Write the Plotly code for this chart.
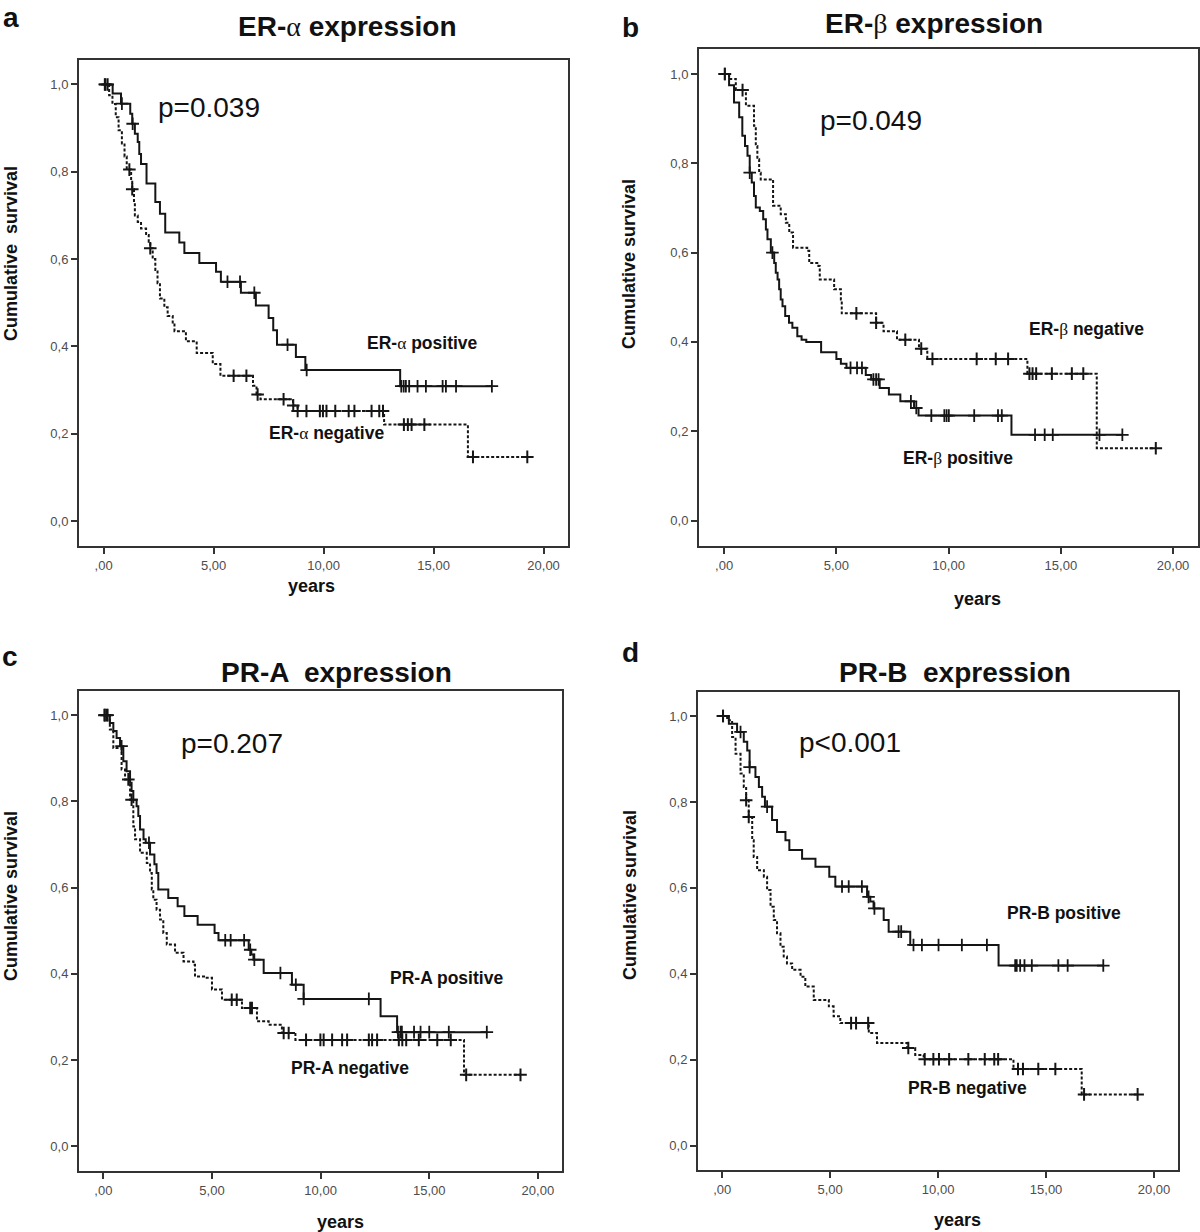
import plotly.graph_objects as go

W, H = 1200, 1232

# ---------------- data (years, cumulative survival) ----------------
# Panel a : ER-alpha
era_pos_t = [0, 0.41, 0.79, 1.21, 1.30, 1.42, 1.55, 1.62, 1.70, 1.95, 2.35, 2.56, 2.80, 3.44, 3.67, 4.35, 5.11,
             5.33, 6.24, 6.92, 7.50, 7.71, 7.88, 8.74, 9.17, 13.48, 17.65]
era_pos_s = [1.0, 0.979, 0.956, 0.933, 0.91, 0.887, 0.868, 0.841, 0.818, 0.773, 0.731, 0.704, 0.661, 0.638, 0.614,
             0.591, 0.571, 0.548, 0.523, 0.494, 0.465, 0.437, 0.404, 0.376, 0.346, 0.309, 0.309]
era_pos_c = [0.05, 0.83, 1.32, 5.63, 6.20, 6.85, 8.36, 9.23, 13.53, 13.64, 13.74, 13.89, 14.27, 14.65, 15.41, 15.56,
             16.02, 17.65]
era_neg_t = [0, 0.25, 0.40, 0.55, 0.68, 0.83, 0.95, 1.05, 1.25, 1.30, 1.38, 1.42, 1.55, 1.70, 1.93, 2.05, 2.12, 2.23,
             2.35, 2.45, 2.56, 2.76, 2.91, 3.14, 3.22, 3.74, 4.23, 4.96, 5.31, 6.79, 6.95, 7.13, 8.61, 8.82, 12.75,
             16.56, 19.26]
era_neg_s = [1.0, 0.975, 0.955, 0.925, 0.895, 0.865, 0.835, 0.805, 0.78, 0.76, 0.73, 0.70, 0.685, 0.67, 0.655, 0.64,
             0.625, 0.60, 0.575, 0.545, 0.51, 0.49, 0.47, 0.45, 0.435, 0.412, 0.385, 0.36, 0.333, 0.31, 0.29, 0.279,
             0.265, 0.252, 0.221, 0.147, 0.147]
era_neg_c = [0.08, 0.18, 1.17, 1.30, 2.12, 5.91, 6.49, 7.0, 8.18, 8.62, 8.82, 9.22, 9.83, 9.97, 10.13, 10.53, 11.14,
             11.40, 12.18, 12.53, 12.70, 13.65, 13.83, 14.0, 14.58, 16.79, 19.26]

# Panel b : ER-beta
erb_pos_t = [0, 0.22, 0.44, 0.67, 0.81, 0.93, 1.04, 1.14, 1.23, 1.33, 1.41, 1.59, 1.74, 1.86, 1.93, 2.08, 2.23, 2.30,
             2.38, 2.45, 2.52, 2.60, 2.72, 2.89, 3.04, 3.26, 3.45, 3.66, 4.32, 5.0, 5.2, 5.45, 6.31, 6.55, 6.93, 7.34,
             7.85, 8.46, 8.66, 12.8, 17.74]
erb_pos_s = [1.0, 0.975, 0.936, 0.903, 0.862, 0.839, 0.817, 0.779, 0.757, 0.727, 0.701, 0.693, 0.675, 0.652, 0.63,
             0.60, 0.577, 0.555, 0.54, 0.518, 0.495, 0.48, 0.458, 0.443, 0.432, 0.413, 0.405, 0.40, 0.377, 0.362,
             0.351, 0.342, 0.326, 0.316, 0.297, 0.282, 0.267, 0.252, 0.235, 0.192, 0.192]
erb_pos_c = [0.03, 1.14, 2.15, 5.63, 5.92, 6.14, 6.65, 6.77, 6.88, 8.32, 8.56, 9.23, 9.81, 9.91, 10.01, 11.14, 12.2,
             12.37, 13.85, 14.28, 14.64, 16.72, 17.74]
erb_neg_t = [0, 0.22, 0.52, 0.97, 1.33, 1.41, 1.48, 1.56, 1.63, 2.18, 2.52, 2.75, 2.90, 3.07, 3.70, 3.79, 4.20, 4.26,
             4.90, 5.20, 5.24, 6.77, 7.10, 7.70, 8.68, 9.05, 13.51, 16.60, 19.23]
erb_neg_s = [1.0, 0.989, 0.964, 0.929, 0.884, 0.839, 0.809, 0.779, 0.764, 0.705, 0.686, 0.667, 0.645, 0.611, 0.604,
             0.577, 0.570, 0.540, 0.518, 0.495, 0.464, 0.443, 0.424, 0.405, 0.385, 0.362, 0.329, 0.162, 0.162]
erb_neg_c = [0.03, 0.82, 5.89, 6.77, 8.07, 8.78, 9.28, 11.25, 12.1, 12.65, 13.6, 13.74, 13.9, 14.6, 15.49, 16.0, 19.23]

# Panel c : PR-A
pra_pos_t = [0, 0.30, 0.46, 0.61, 0.77, 0.92, 1.07, 1.23, 1.30, 1.38, 1.53, 1.61, 1.69, 1.85, 1.95, 2.15, 2.35, 2.45,
             2.53, 2.99, 3.42, 3.73, 4.34, 5.12, 5.30, 6.69, 6.81, 6.91, 7.38, 8.68, 9.22, 12.76, 13.52, 17.65]
pra_pos_s = [1.0, 0.982, 0.963, 0.947, 0.928, 0.893, 0.870, 0.843, 0.824, 0.804, 0.789, 0.766, 0.735, 0.712, 0.704,
             0.677, 0.654, 0.634, 0.596, 0.576, 0.557, 0.534, 0.514, 0.495, 0.478, 0.456, 0.445, 0.433, 0.402, 0.375,
             0.342, 0.302, 0.265, 0.265]
pra_pos_c = [0.07, 0.2, 0.84, 2.1, 5.61, 5.86, 6.48, 6.76, 6.95, 8.15, 8.86, 9.22, 12.22, 13.56, 13.68, 13.74, 14.3,
             14.6, 15.0, 15.9, 17.65]
pra_neg_t = [0, 0.30, 0.46, 0.84, 1.0, 1.23, 1.38, 1.46, 1.69, 2.0, 2.15, 2.23, 2.30, 2.45, 2.61, 2.76, 2.92, 3.30,
             3.69, 4.15, 4.22, 4.68, 5.0, 5.46, 6.38, 7.07, 7.61, 8.22, 8.84, 16.6, 19.2]
pra_neg_s = [1.0, 0.967, 0.924, 0.874, 0.851, 0.804, 0.742, 0.712, 0.681, 0.657, 0.634, 0.596, 0.572, 0.549, 0.526,
             0.495, 0.468, 0.449, 0.429, 0.421, 0.394, 0.391, 0.364, 0.340, 0.321, 0.290, 0.282, 0.263, 0.247, 0.166,
             0.166]
pra_neg_c = [0.05, 0.15, 1.15, 1.30, 5.91, 6.14, 6.76, 6.84, 8.30, 8.53, 9.33, 9.99, 10.14, 10.53, 10.99, 11.22, 12.22,
             12.37, 12.6, 13.6, 13.76, 13.94, 14.52, 15.37, 15.99, 16.7, 19.2]

# Panel d : PR-B
prb_pos_t = [0, 0.31, 0.69, 1.0, 1.16, 1.27, 1.54, 1.70, 1.85, 1.98, 2.31, 2.54, 2.93, 3.11, 3.70, 4.32, 4.96, 5.24,
             6.71, 6.86, 7.01, 7.48, 7.71, 8.71, 12.8, 17.65]
prb_pos_s = [1.0, 0.982, 0.963, 0.940, 0.920, 0.881, 0.858, 0.835, 0.812, 0.789, 0.758, 0.730, 0.711, 0.688, 0.668,
             0.649, 0.626, 0.603, 0.579, 0.568, 0.552, 0.525, 0.498, 0.467, 0.419, 0.419]
prb_pos_c = [0.04, 0.85, 1.27, 2.08, 5.55, 5.86, 6.47, 6.78, 7.05, 8.17, 8.29, 8.86, 9.25, 10.02, 11.1, 12.26, 13.57,
             13.64, 13.80, 14.0, 14.34, 15.57, 16.0, 17.65]
prb_neg_t = [0, 0.23, 0.46, 0.62, 0.85, 1.0, 1.11, 1.23, 1.39, 1.46, 1.62, 1.93, 2.08, 2.24, 2.39, 2.54, 2.70, 2.85,
             3.0, 3.24, 3.63, 3.85, 4.24, 4.94, 5.16, 5.47, 6.79, 7.17, 8.56, 8.94, 9.33, 13.49, 16.65, 19.24]
prb_neg_s = [1.0, 0.99, 0.951, 0.912, 0.866, 0.835, 0.804, 0.765, 0.711, 0.672, 0.641, 0.626, 0.595, 0.556, 0.525,
             0.494, 0.463, 0.440, 0.424, 0.409, 0.393, 0.370, 0.339, 0.324, 0.301, 0.285, 0.262, 0.239, 0.227, 0.211,
             0.201, 0.178, 0.119, 0.119]
prb_neg_c = [0.04, 1.11, 1.23, 5.97, 6.2, 6.76, 8.62, 9.38, 9.78, 10.04, 10.51, 11.4, 12.16, 12.6, 12.78, 13.7, 13.93,
             14.64, 15.43, 16.76, 19.24]

x_tickvals = [0, 5, 10, 15, 20]
x_ticktext = [",00", "5,00", "10,00", "15,00", "20,00"]
y_tickvals = [0.0, 0.2, 0.4, 0.6, 0.8, 1.0]
y_ticktext = ["0,0", "0,2", "0,4", "0,6", "0,8", "1,0"]

GREEK = "<span style=\"font-family:'Liberation Serif';font-weight:normal\">%s</span>"
panel_letters = ["a", "b", "c", "d"]
panel_titles = ["ER-" + GREEK % "α" + " expression", "ER-" + GREEK % "β" + " expression",
                "PR-A  expression", "PR-B  expression"]
p_texts = ["p=0.039", "p=0.049", "p=0.207", "p<0.001"]
pos_labels = ["ER-" + GREEK % "α" + " positive", "ER-" + GREEK % "β" + " positive",
              "PR-A positive", "PR-B positive"]
neg_labels = ["ER-" + GREEK % "α" + " negative", "ER-" + GREEK % "β" + " negative",
              "PR-A negative", "PR-B negative"]
ytitles = ["Cumulative\u00a0 survival", "Cumulative survival", "Cumulative survival", "Cumulative survival"]

series = [
    (era_pos_t, era_pos_s, era_pos_c, era_neg_t, era_neg_s, era_neg_c),
    (erb_pos_t, erb_pos_s, erb_pos_c, erb_neg_t, erb_neg_s, erb_neg_c),
    (pra_pos_t, pra_pos_s, pra_pos_c, pra_neg_t, pra_neg_s, pra_neg_c),
    (prb_pos_t, prb_pos_s, prb_pos_c, prb_neg_t, prb_neg_s, prb_neg_c),
]

# ---------------- layout geometry (pixels) ----------------
boxes = [(79, 568, 60, 546), (699, 1198, 49, 546), (79, 562, 691, 1171), (698, 1178, 692, 1170)]
letter_pos = [(11, 17), (630, 28), (10, 656), (630, 652)]
title_pos = [(347, 27), (934, 23), (336, 672), (955, 672)]
p_pos = [(156, 107), (818, 121), (179, 743), (797, 742)]
pos_lab_pos = [(422, 343), (958, 458), (446, 978), (1064, 913)]
neg_lab_pos = [(326, 433), (1086, 329), (350, 1068), (967, 1088)]
years_pos = [(311, 586), (978, 599), (340, 1222), (957, 1220)]
ytitle_pos = [(11, 254), (629, 264), (11, 896), (630, 895)]


def px(x):
    return x / W


def py(y):
    return 1 - y / H


def surv_at(ts, ss, t):
    s = ss[0]
    for ti, si in zip(ts, ss):
        if ti <= t + 1e-9:
            s = si
    return s


fig = go.Figure()
LINE = "#151515"
FONT = "Liberation Sans, Arial, sans-serif"

annotations = []
for i, (pt, ps, pc, nt, ns, nc) in enumerate(series):
    k = "" if i == 0 else str(i + 1)
    xa, ya = "x" + k, "y" + k
    # negative (dotted)
    fig.add_trace(go.Scatter(x=nt, y=ns, mode="lines", line=dict(shape="hv", color=LINE, width=2, dash="3px,2px"),
                             xaxis=xa, yaxis=ya, showlegend=False, hoverinfo="skip"))
    fig.add_trace(go.Scatter(x=nc, y=[surv_at(nt, ns, t) for t in nc], mode="markers",
                             marker=dict(symbol="cross-thin", size=9, line=dict(width=2, color=LINE)),
                             xaxis=xa, yaxis=ya, showlegend=False, hoverinfo="skip"))
    # positive (solid)
    fig.add_trace(go.Scatter(x=pt, y=ps, mode="lines", line=dict(shape="hv", color=LINE, width=2),
                             xaxis=xa, yaxis=ya, showlegend=False, hoverinfo="skip"))
    fig.add_trace(go.Scatter(x=pc, y=[surv_at(pt, ps, t) for t in pc], mode="markers",
                             marker=dict(symbol="cross-thin", size=9, line=dict(width=1.8, color=LINE)),
                             xaxis=xa, yaxis=ya, showlegend=False, hoverinfo="skip"))

    l, r, t, b = boxes[i]
    axcommon = dict(showgrid=False, zeroline=False, showline=True, mirror=True, linecolor="#333", linewidth=2,
                    ticks="outside", ticklen=6, tickwidth=1.5, tickcolor="#333",
                    tickfont=dict(family=FONT, size=13, color="#4d4d4d"))
    fig.layout["xaxis" + k] = dict(domain=[px(l), px(r)], range=[-1.12, 21.11], anchor=ya,
                                   tickvals=x_tickvals, ticktext=x_ticktext, **axcommon)
    fig.layout["yaxis" + k] = dict(domain=[py(b), py(t)], range=[-0.057, 1.056], anchor=xa,
                                   tickvals=y_tickvals, ticktext=y_ticktext, **axcommon)

    def ann(text, pos, size, bold=False, angle=0, xanchor="center"):
        annotations.append(dict(text=("<b>%s</b>" % text) if bold else text, x=px(pos[0]), y=py(pos[1]),
                                xref="paper", yref="paper", showarrow=False, xanchor=xanchor, yanchor="middle",
                                textangle=angle, font=dict(family=FONT, size=size, color="#111")))

    ann(panel_letters[i], letter_pos[i], 28, bold=True)
    ann(panel_titles[i], title_pos[i], 28, bold=True)
    ann(p_texts[i], p_pos[i], 28, xanchor="left")
    ann(pos_labels[i], pos_lab_pos[i], 17.5, bold=True)
    ann(neg_labels[i], neg_lab_pos[i], 17.5, bold=True)
    ann("years", years_pos[i], 18, bold=True)
    ann(ytitles[i], ytitle_pos[i], 18, bold=True, angle=-90)

fig.update_layout(width=W, height=H, margin=dict(l=0, r=0, t=0, b=0), paper_bgcolor="white",
                  plot_bgcolor="white", annotations=annotations, showlegend=False)

fig.write_html("out.html", config={"displayModeBar": False},
               post_script="document.body.style.margin='0';document.body.style.overflow='hidden';")
